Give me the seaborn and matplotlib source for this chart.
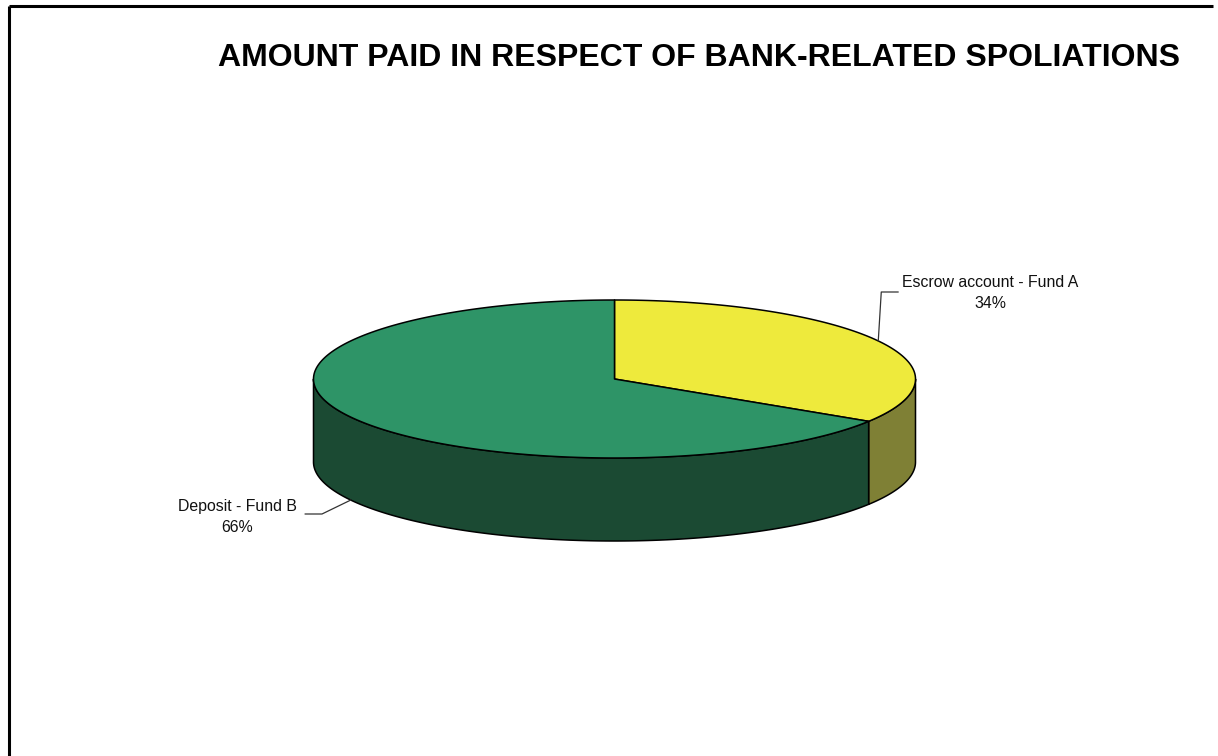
import numpy as np
import matplotlib
matplotlib.use("Agg")
import matplotlib.pyplot as plt
from matplotlib.patches import Polygon
import seaborn as sns

sns.set_theme(style="white")
plt.rcParams["font.family"] = ["Liberation Sans", "DejaVu Sans"]

# Data
categories = ["Escrow account - Fund A", "Deposit - Fund B"]
shares = [34, 66]
top_colors = ["#EEEA3C", "#2E9467"]
side_colors = ["#7F8035", "#1B4A33"]

W, H = 1218, 756
fig = plt.figure(figsize=(W / 100, H / 100), dpi=100)
ax = fig.add_axes([0, 0, 1, 1])
ax.set_xlim(0, W)
ax.set_ylim(H, 0)
ax.axis("off")

# Frame (top and left edges)
ax.plot([8.5, 1213], [5.5, 5.5], color="black", lw=2.2, solid_capstyle="butt")
ax.plot([8.5, 8.5], [5.5, H], color="black", lw=2.2, solid_capstyle="butt")

ax.text(699, 65.5, "AMOUNT PAID IN RESPECT OF BANK-RELATED SPOLIATIONS",
        ha="center", va="baseline", fontsize=23.0, fontweight="bold", color="black")

# Pie geometry (screen pixels)
cx, cy = 614.5, 379.0
rx, ry = 301.0, 79.0
depth = 83.0


def pt(t_deg, dy=0.0):
    t = np.radians(t_deg)
    return cx + rx * np.cos(t), cy - ry * np.sin(t) + dy


total = float(sum(shares))
# slices start at 12 o'clock and run clockwise
bounds = []
start = 90.0
for s in shares:
    end = start - 360.0 * s / total
    bounds.append((end, start))
    start = end

# Side walls: only the front half (sin t < 0) is visible
for (a0, a1), col in zip(bounds, side_colors):
    segs = []
    for shift in (-360, 0, 360):
        l, h = max(a0 + shift, -180), min(a1 + shift, 0)
        if h > l:
            segs.append((l, h))
    for l, h in segs:
        ts = np.linspace(l, h, 200)
        topx, topy = pt(ts)
        botx, boty = pt(ts[::-1], depth)
        poly = np.column_stack([np.concatenate([topx, botx]),
                                np.concatenate([topy, boty])])
        ax.add_patch(Polygon(poly, closed=True, facecolor=col,
                             edgecolor="black", lw=1.1, joinstyle="round"))

# Top faces
for (a0, a1), col in zip(bounds, top_colors):
    ts = np.linspace(a0, a1, 400)
    x, y = pt(ts)
    poly = np.column_stack([np.concatenate([[cx], x]), np.concatenate([[cy], y])])
    ax.add_patch(Polygon(poly, closed=True, facecolor=col,
                         edgecolor="black", lw=1.1, joinstyle="round"))

# Labels with leader lines
mids = [(a0 + a1) / 2 for a0, a1 in bounds]
label_fs = 11.4

# Escrow account label (upper right)
mx, my = pt(mids[0])
ax.plot([mx, mx + 3, mx + 20], [my, 292, 292], color="#333333", lw=0.9)
ax.text(990, 293, f"{categories[0]}\n{shares[0]}%", ha="center", va="center",
        fontsize=label_fs, linespacing=1.45, color="#111111")

# Deposit label (lower left)
mx, my = pt(mids[1], depth)
ax.plot([mx, 322, 305], [my, 514, 514], color="#333333", lw=0.9)
ax.text(237.5, 517, f"{categories[1]}\n{shares[1]}%", ha="center", va="center",
        fontsize=label_fs, linespacing=1.45, color="#111111")

fig.savefig("out.png", dpi=100, facecolor="white")
